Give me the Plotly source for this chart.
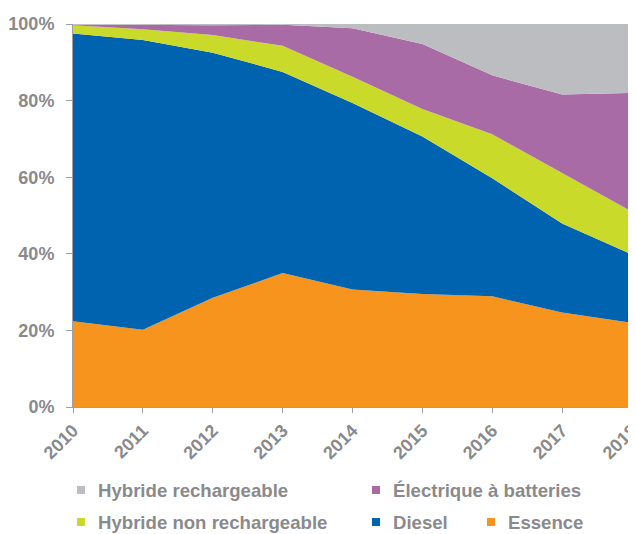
import plotly.graph_objects as go

years = [2010, 2011, 2012, 2013, 2014, 2015, 2016, 2017, 2018]
essence = [22.4, 20.2, 28.5, 35.0, 30.7, 29.5, 28.9, 24.7, 22.0]
diesel = [75.1, 75.6, 64.0, 52.5, 48.7, 41.1, 30.8, 23.2, 17.8]
hybride_non_rech = [2.2, 2.8, 4.6, 6.8, 6.8, 7.2, 11.5, 13.1, 11.2]
electrique = [0.2, 1.2, 2.6, 5.5, 12.7, 17.0, 15.4, 20.6, 31.0]
hybride_rech = [0.1, 0.2, 0.3, 0.2, 1.1, 5.2, 13.4, 18.4, 18.0]
yticks = [0, 20, 40, 60, 80, 100]
ytick_labels = ["0%", "20%", "40%", "60%", "80%", "100%"]

series = [
    ("Essence", essence, "#F7941D"),
    ("Diesel", diesel, "#0063AF"),
    ("Hybride non rechargeable", hybride_non_rech, "#C9DA2A"),
    ("Électrique à batteries", electrique, "#A96BA6"),
    ("Hybride rechargeable", hybride_rech, "#BCBDC0"),
]

# page has an 8px body margin: figure is drawn at offset (8, 8)
OFF = 8
W, H = 636 - OFF, 534 - OFF
ML, MR, MT, MB = 73 - OFF, 4, 24 - OFF, 127
PW, PH = W - ML - MR, H - MT - MB
TXT = "#8A8A8C"
FONT = "Liberation Sans, Arial, sans-serif"

fig = go.Figure()
for name, vals, col in series:
    fig.add_trace(go.Scatter(
        x=years, y=vals, name=name, mode="lines", stackgroup="one",
        line=dict(width=0, color=col), fillcolor=col, showlegend=False,
    ))

def px_x(px):
    return (px - OFF - ML) / PW

def px_y(py):
    return (H - MB - (py - OFF)) / PH

legend_items = [
    ("Hybride rechargeable", "#BCBDC0", 77, 96, 490),
    ("Électrique à batteries", "#A96BA6", 372, 391, 490),
    ("Hybride non rechargeable", "#C9DA2A", 77, 96, 522),
    ("Diesel", "#0063AF", 372, 391, 522),
    ("Essence", "#F7941D", 487, 506, 522),
]
shapes = []
annotations = []
for name, col, sx, tx, cy in legend_items:
    shapes.append(dict(type="rect", xref="paper", yref="paper",
                       x0=px_x(sx), x1=px_x(sx + 8), y0=px_y(cy + 4), y1=px_y(cy - 4),
                       fillcolor=col, line=dict(width=0)))
    annotations.append(dict(xref="paper", yref="paper", x=px_x(tx), y=px_y(cy),
                            xanchor="left", yanchor="middle", showarrow=False, text=name,
                            font=dict(family=FONT, size=18.6, color=TXT, weight="bold")))

fig.update_layout(
    width=W, height=H,
    margin=dict(l=ML, r=MR, t=MT, b=MB, autoexpand=False),
    paper_bgcolor="white", plot_bgcolor="white",
    shapes=shapes, annotations=annotations,
    xaxis=dict(range=[2009.9999, 2018.0001], tickvals=years, ticktext=[str(y) for y in years],
               tickangle=-45, showgrid=False, zeroline=False, automargin=False,
               ticklabeloverflow="allow",
               showline=True, linecolor="#A0A0A0", linewidth=1,
               ticks="outside", ticklen=5, tickcolor="#A0A0A0",
               tickfont=dict(family=FONT, size=18, color=TXT, weight="bold")),
    yaxis=dict(range=[0, 100], tickvals=yticks, ticktext=ytick_labels,
               showgrid=False, zeroline=False, automargin=False,
               showline=True, linecolor="#A0A0A0", linewidth=1,
               ticks="outside", ticklen=6, tickcolor="#A0A0A0", ticklabelstandoff=8,
               tickfont=dict(family=FONT, size=18, color=TXT, weight="bold")),
)
fig.write_html("out.html")
